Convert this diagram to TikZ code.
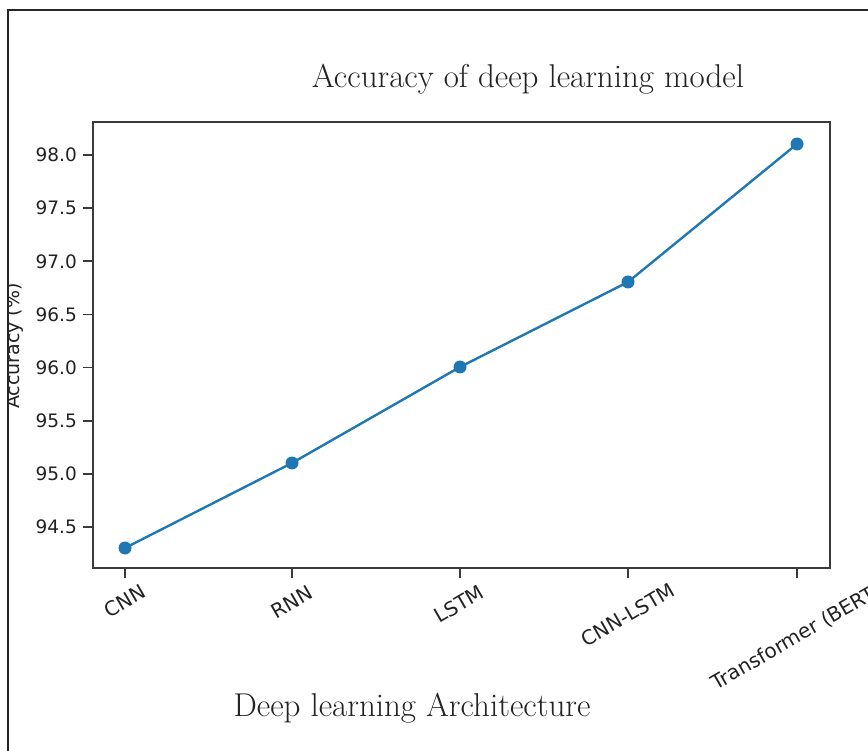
\documentclass[tikz,border=0pt]{standalone}
\usepackage{fontspec}
\newfontfamily\dvs{DejaVu Sans}
\definecolor{mplblue}{HTML}{1F77B4}
\definecolor{spine}{HTML}{3A3A3A}
\definecolor{txt}{HTML}{222222}
\begin{document}
\begin{tikzpicture}[x=1pt,y=-1pt,
  ticklab/.style={font=\dvs\fontsize{18.5}{20}\selectfont, text=txt, inner sep=0pt},
  xlab/.style={font=\dvs\fontsize{20}{22}\selectfont, text=txt, inner sep=0pt, rotate=30},
  serif/.style={font=\fontsize{33}{38}\selectfont, text=txt, inner sep=0pt},
  dot/.style={circle, fill=mplblue, minimum size=13pt, inner sep=0pt},
  tickmark/.style={draw=spine, line width=1.6pt}]
\useasboundingbox (0,0) rectangle (868,751);
\fill[white] (0,0) rectangle (868,751);
% y label (partly hidden by frame)
\begin{scope}
\clip (9,0) rectangle (60,751);
\node[font=\dvs\fontsize{19}{22}\selectfont, text=txt, rotate=90, anchor=base, inner sep=0pt] (ylab) at (19.5,346) {Accuracy (\%)};
\end{scope}
% outer frame
\draw[line width=2.5pt, black!85] (8,800) -- (8,10) -- (900,10);
% title and x label
\node[serif, anchor=base] (title) at (528,88) {Accuracy of deep learning model};
\node[serif, anchor=base] (xtitle) at (412,716) {Deep learning Architecture};
% axes box
\draw[draw=spine, line width=2pt] (93,122) rectangle (830,568);
% y ticks
\foreach \v/\yy in {98.0/155,97.5/208.1,97.0/261.3,96.5/314.4,96.0/367.6,95.5/420.7,95.0/473.9,94.5/527}{
  \draw[tickmark] (83,\yy) -- (93,\yy);
  \node[ticklab, anchor=east] at (77,\yy) {\v};
}
% x ticks
\foreach \xx in {125,292,460,628,797}{
  \draw[tickmark] (\xx,568) -- (\xx,578);
}
\node[xlab] (l1) at (125,601) {CNN};
\node[xlab] (l2) at (292,602) {RNN};
\node[xlab] (l3) at (459,604) {LSTM};
\node[xlab] (l4) at (628,615) {CNN-LSTM};
\node[xlab] (l5) at (797,637) {Transformer (BERT)};
% data
\node[dot] (p1) at (125,548) {};
\node[dot] (p2) at (292,463) {};
\node[dot] (p3) at (460,367) {};
\node[dot] (p4) at (628,282) {};
\node[dot] (p5) at (797,144) {};
\draw[mplblue, line width=2.4pt] (p1.center) -- (p2.center) -- (p3.center) -- (p4.center) -- (p5.center);
\end{tikzpicture}
\end{document}
